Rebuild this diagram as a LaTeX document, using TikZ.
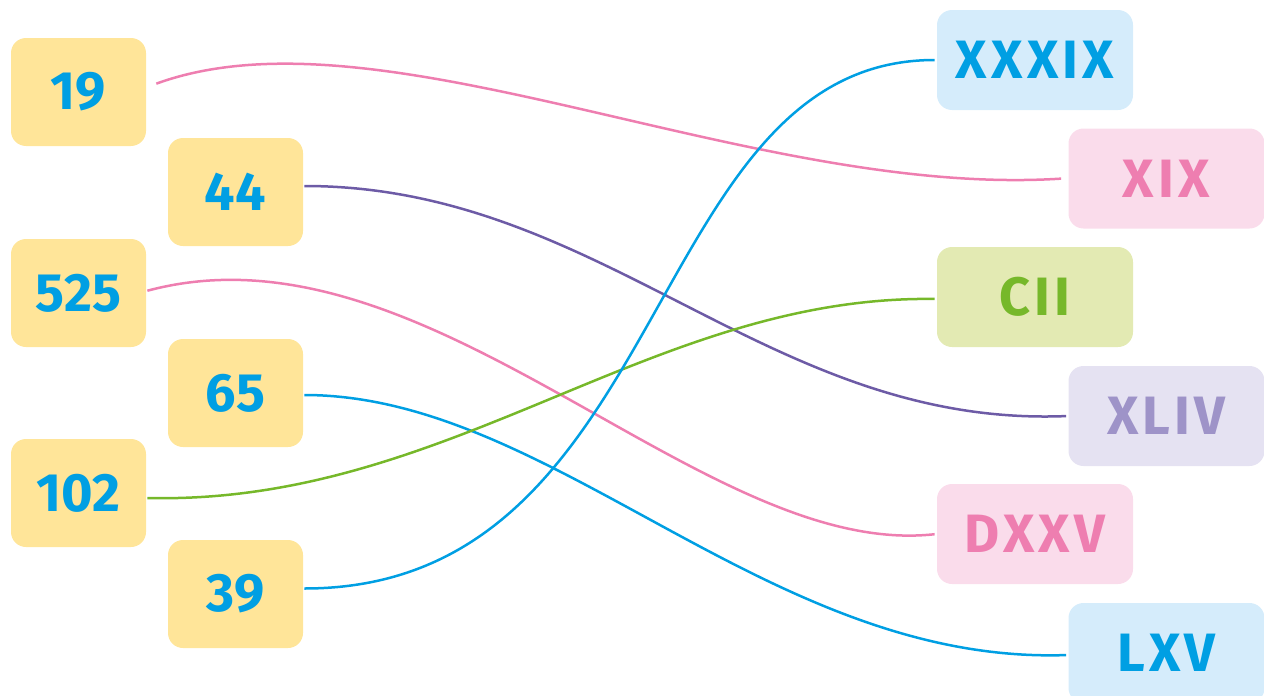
\documentclass[tikz,border=0pt]{standalone}
\usepackage{fontspec}
\setmainfont{Fira Sans}
\usepackage{tikz}

\definecolor{boxyellow}{HTML}{FFE599}
\definecolor{numblue}{HTML}{009FE3}
\definecolor{skyfill}{HTML}{D5ECFB}
\definecolor{pinkfill}{HTML}{FADCEB}
\definecolor{pinktext}{HTML}{EE7EB0}
\definecolor{greenfill}{HTML}{E3EAB3}
\definecolor{greentext}{HTML}{76B82A}
\definecolor{lilacfill}{HTML}{E5E2F2}
\definecolor{lilactext}{HTML}{9E93C8}
\definecolor{linkpurple}{HTML}{6D5BA6}

\begin{document}
\begin{tikzpicture}[x=0.5pt,y=-0.5pt,
    nodes={rounded corners=7.5pt,font=\fontsize{27}{30}\selectfont\bfseries},
    numbox/.style={fill=boxyellow,text=numblue,minimum width=67.5pt,minimum height=54pt},
    romanbox/.style={minimum width=98pt,minimum height=50pt,
      font=\fontsize{27}{30}\selectfont\bfseries\addfontfeatures{LetterSpace=8}},
    link/.style={line width=1.25pt,shorten <=0.5pt,shorten >=1pt}]
\useasboundingbox (0,0) rectangle (1264,696);

% numbers
\node[numbox] (n19)  at (78.5,92)   {19};
\node[numbox] (n44)  at (235.5,192) {44};
\node[numbox] (n525) at (78.5,293)  {525};
\node[numbox] (n65)  at (235.5,393) {65};
\node[numbox] (n102) at (78.5,493)  {102};
\node[numbox] (n39)  at (235.5,594) {39};

% roman numerals
\node[romanbox,fill=skyfill,text=numblue]      (r39)  at (1035,60)    {XXXIX};
\node[romanbox,fill=pinkfill,text=pinktext]    (r19)  at (1166.5,178.5) {XIX};
\node[romanbox,fill=greenfill,text=greentext]  (r102) at (1035,297)   {CII};
\node[romanbox,fill=lilacfill,text=lilactext]  (r44)  at (1166.5,416) {XLIV};
\node[romanbox,fill=pinkfill,text=pinktext]    (r525) at (1035,534)   {DXXV};
\node[romanbox,fill=skyfill,text=numblue]      (r65)  at (1166.5,653) {LXV};

% links
\draw[link,pinktext] ([xshift=4.5pt,yshift=4pt]n19.east)
    .. controls +(225,-82) and +(-313,20) .. ([xshift=-2.5pt]r19.west);
\draw[link,linkpurple] ([yshift=3pt]n44.east)
    .. controls +(300,0) and +(-300,12) .. (r44.west);
\draw[link,pinktext] ([yshift=1pt]n525.east)
    .. controls +(282,-76) and +(-235,26) .. (r525.west);
\draw[link,numblue] ([yshift=-1pt]n65.east)
    .. controls +(250,0) and +(-300,10) .. ([yshift=-1pt]r65.west);
\draw[link,greentext] ([yshift=-2.5pt]n102.east)
    .. controls +(304,7) and +(-285,-4) .. ([yshift=-1pt]r102.west);
\draw[link,numblue] ([yshift=2.75pt]n39.east)
    .. controls +(370,0) and +(-295,0) .. (r39.west);
\end{tikzpicture}
\end{document}
